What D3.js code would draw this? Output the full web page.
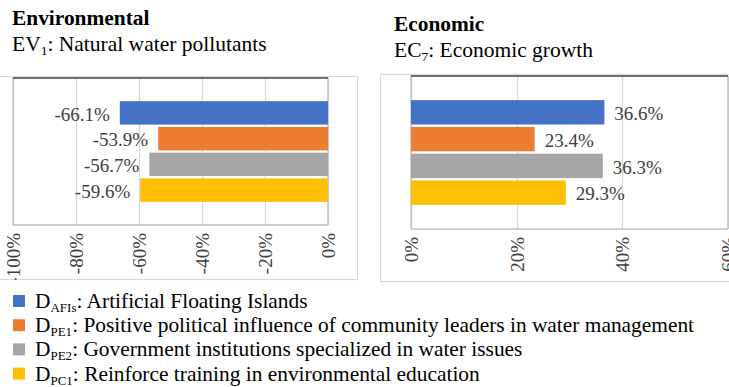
<!DOCTYPE html>
<html>
<head>
<meta charset="utf-8">
<script src="https://cdn.jsdelivr.net/npm/d3@7"></script>
<style>
  html, body { margin: 0; padding: 0; background: #fff; }
  svg { display: block; }
  svg text { font-family: "Liberation Serif", Tinos, "Times New Roman", Times, serif; }
</style>
</head>
<body>
<svg id="chart" width="729" height="387"></svg>
<script>
// Intervention categories (legend keys and descriptions)
const seriesKeys = ["AFIs", "PE1", "PE2", "PC1"];
const seriesDescs = [
  "Artificial Floating Islands",
  "Positive political influence of community leaders in water management",
  "Government institutions specialized in water issues",
  "Reinforce training in environmental education"
];
const seriesColors = ["#4472C4", "#ED7D31", "#A5A5A5", "#FFC000"];

// Environmental indicator EV1 (%)
const envValues = [-66.1, -53.9, -56.7, -59.6];
const envTicks = [-100, -80, -60, -40, -20, 0];

// Economic indicator EC7 (%)
const ecoValues = [36.6, 23.4, 36.3, 29.3];
const ecoTicks = [0, 20, 40, 60];

const svg = d3.select("#chart");
const defs = svg.append("defs");

function panel(cfg) {
  const g = svg.append("g");

  // titles
  g.append("text").attr("x", cfg.titleX).attr("y", cfg.titleY)
    .attr("font-size", 21.4).attr("font-weight", "bold").attr("fill", "#000")
    .text(cfg.title);
  const sub = g.append("text").attr("x", cfg.titleX).attr("y", cfg.titleY + 26)
    .attr("font-size", 21.5).attr("fill", "#000");
  sub.append("tspan").text(cfg.codeMain);
  sub.append("tspan").attr("font-size", 13.5).attr("dy", 4).text(cfg.codeSub);
  sub.append("tspan").attr("dy", -4).text(": " + cfg.subtitle);

  // outer chart box, contents clipped to it
  defs.append("clipPath").attr("id", cfg.id)
    .append("rect").attr("x", cfg.box[0]).attr("y", cfg.box[1])
    .attr("width", cfg.box[2] - cfg.box[0]).attr("height", cfg.box[3] - cfg.box[1]);
  g.append("rect").attr("x", cfg.box[0] + 0.5).attr("y", cfg.box[1] + 0.5)
    .attr("width", cfg.box[2] - cfg.box[0] - 1).attr("height", cfg.box[3] - cfg.box[1] - 1)
    .attr("fill", "none").attr("stroke", "#d9d9d9").attr("stroke-width", 1.2);

  const c = g.append("g").attr("clip-path", `url(#${cfg.id})`);

  const x = d3.scaleLinear().domain(cfg.domain).range([cfg.plot.left, cfg.plot.right]);
  const y = d3.scaleBand().domain(d3.range(cfg.values.length))
    .range([cfg.plot.top, cfg.plot.bottom]).paddingInner(0.09).paddingOuter(0.9);

  // vertical gridlines
  c.append("g").selectAll("line").data(cfg.ticks).join("line")
    .attr("x1", d => Math.round(x(d)) + 0.5).attr("x2", d => Math.round(x(d)) + 0.5)
    .attr("y1", cfg.plot.top).attr("y2", cfg.plot.bottom)
    .attr("stroke", "#d9d9d9").attr("stroke-width", 1.3);

  // plot frame
  c.append("line").attr("x1", cfg.plot.left).attr("x2", cfg.plot.left)
    .attr("y1", cfg.plot.top).attr("y2", cfg.plot.bottom)
    .attr("stroke", "#bfbfbf").attr("stroke-width", 1.3);
  c.append("line").attr("x1", cfg.plot.left).attr("x2", cfg.plot.right)
    .attr("y1", cfg.plot.bottom).attr("y2", cfg.plot.bottom)
    .attr("stroke", "#bfbfbf").attr("stroke-width", 1.3);
  c.append("line").attr("x1", cfg.plot.right).attr("x2", cfg.plot.right)
    .attr("y1", cfg.plot.top).attr("y2", cfg.plot.bottom)
    .attr("stroke", "#bfbfbf").attr("stroke-width", 1.3);
  c.append("line").attr("x1", cfg.plot.left).attr("x2", cfg.plot.right)
    .attr("y1", cfg.plot.top).attr("y2", cfg.plot.top)
    .attr("stroke", "#404040").attr("stroke-width", 1.5);

  // bars
  c.append("g").selectAll("rect").data(cfg.values).join("rect")
    .attr("x", d => Math.min(x(0), x(d)))
    .attr("width", d => Math.abs(x(d) - x(0)))
    .attr("y", (d, i) => y(i))
    .attr("height", y.bandwidth())
    .attr("fill", (d, i) => seriesColors[i]);

  // value labels
  c.append("g").selectAll("text").data(cfg.values).join("text")
    .attr("x", d => d < 0 ? x(d) - 10 : x(d) + 10)
    .attr("y", (d, i) => y(i) + y.bandwidth() / 2 + 1)
    .attr("dy", "0.35em")
    .attr("text-anchor", d => d < 0 ? "end" : "start")
    .attr("font-size", 19).attr("fill", "#404040")
    .text(d => d.toFixed(1) + "%");

  // rotated axis tick labels
  const axis = d3.axisBottom(x).tickValues(cfg.ticks).tickSize(0).tickFormat(d => d + "%");
  const ax = c.append("g").attr("transform", `translate(0,${cfg.plot.bottom})`).call(axis)
    .attr("font-family", null);
  ax.select(".domain").remove();
  ax.selectAll("text")
    .attr("transform", "rotate(-90)")
    .attr("text-anchor", "end")
    .attr("x", -8).attr("y", 0).attr("dy", "0.35em")
    .attr("font-size", 19)
    .attr("fill", "#404040");
}

panel({
  id: "clipEnv",
  title: "Environmental", codeMain: "EV", codeSub: "1", subtitle: "Natural water pollutants",
  titleX: 12, titleY: 25,
  box: [-2, 76, 358, 280],
  plot: { left: 13, right: 328, top: 78, bottom: 225 },
  domain: [-100, 0], ticks: envTicks, values: envValues
});

panel({
  id: "clipEco",
  title: "Economic", codeMain: "EC", codeSub: "7", subtitle: "Economic growth",
  titleX: 394, titleY: 31,
  box: [380, 74, 740, 282],
  plot: { left: 411, right: 728, top: 76, bottom: 229 },
  domain: [0, 60], ticks: ecoTicks, values: ecoValues
});

// legend
const legend = svg.append("g");
const rows = legend.selectAll("g").data(seriesKeys).join("g")
  .attr("transform", (d, i) => `translate(13, ${295 + i * 24.2})`);
rows.append("rect").attr("width", 12).attr("height", 12)
  .attr("fill", (d, i) => seriesColors[i]);
const lt = rows.append("text").attr("x", 22).attr("y", 13)
  .attr("font-size", 21.4).attr("fill", "#000");
lt.append("tspan").text("D");
lt.append("tspan").attr("font-size", 13).attr("dy", 4).text(d => d);
lt.append("tspan").attr("dy", -4).text((d, i) => ": " + seriesDescs[i]);
</script>
</body>
</html>
